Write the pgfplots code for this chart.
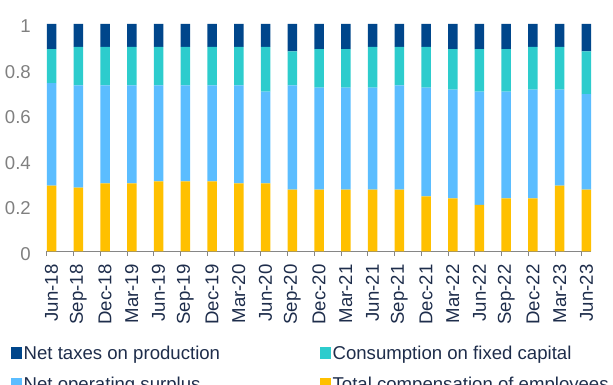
\documentclass[border=0pt]{standalone}
\usepackage{fontspec}
\setmainfont{Liberation Sans}
\usepackage{pgfplots}
\pgfplotsset{compat=1.18}
\usepackage{pgfplotstable}
\definecolor{ctax}{RGB}{0,70,139}
\definecolor{ccfc}{RGB}{45,204,205}
\definecolor{cnos}{RGB}{91,189,255}
\definecolor{ccomp}{RGB}{255,192,0}
\definecolor{ctext}{RGB}{30,45,75}
\definecolor{cgray}{RGB}{128,128,128}
\definecolor{caxis}{RGB}{134,134,134}

\pgfplotstableread{
k comp nos cfc tax
0 0.289 0.451 0.149 0.111
1 0.280 0.450 0.169 0.101
2 0.299 0.431 0.169 0.101
3 0.299 0.431 0.169 0.101
4 0.308 0.422 0.169 0.101
5 0.308 0.422 0.169 0.101
6 0.308 0.422 0.169 0.101
7 0.299 0.431 0.169 0.101
8 0.299 0.403 0.197 0.101
9 0.271 0.459 0.150 0.120
10 0.271 0.449 0.169 0.111
11 0.271 0.449 0.169 0.111
12 0.271 0.449 0.179 0.101
13 0.271 0.459 0.169 0.101
14 0.242 0.478 0.179 0.101
15 0.233 0.478 0.178 0.111
16 0.204 0.498 0.187 0.111
17 0.233 0.469 0.187 0.111
18 0.233 0.478 0.188 0.101
19 0.289 0.422 0.188 0.101
20 0.271 0.421 0.188 0.120
}\data

\newcommand{\chartfont}{\fontsize{18.6}{21}\selectfont}

\begin{document}
\begin{tikzpicture}
\path[use as bounding box] (0,0) rectangle (613pt,385pt);
\begin{axis}[
  at={(46.7pt,133.7pt)}, anchor=south west,
  scale only axis, width=544.6pt, height=227.3pt,
  ybar stacked, bar width=9.5pt,
  xmin=-0.18, xmax=20.18, ymin=0, ymax=1,
  axis x line*=bottom, axis y line*=left,
  y axis line style={draw=none},
  x axis line style={draw=caxis, line width=0.8pt},
  ytick={0,0.2,0.4,0.6,0.8,1},
  ytick style={draw=none},
  xtick={0,1,2,3,4,5,6,7,8,9,10,11,12,13,14,15,16,17,18,19,20},
  xticklabels={Jun-18,Sep-18,Dec-18,Mar-19,Jun-19,Sep-19,Dec-19,Mar-20,Jun-20,Sep-20,Dec-20,Mar-21,Jun-21,Sep-21,Dec-21,Mar-22,Jun-22,Sep-22,Dec-22,Mar-23,Jun-23},
  major tick length=0pt,
  minor xtick={-0.18,0.82,1.82,2.82,3.82,4.82,5.82,6.82,7.82,8.82,9.82,10.82,11.82,12.82,13.82,14.82,15.82,16.82,17.82,18.82,19.82},
  minor tick length=4.5pt,
  minor tick style={draw=caxis, line width=0.8pt},
  tick align=outside,
  xticklabel style={rotate=90, anchor=east, inner sep=0pt, font=\chartfont, text=ctext},
  xticklabel shift=13pt,
  yticklabel style={anchor=east, inner sep=0pt, font=\chartfont, text=cgray, xshift=-15.7pt, yshift=-2.5pt},
  /pgf/number format/assume math mode=true,
  legend columns=2, reverse legend, legend cell align=left,
  legend style={at={(-0.0656,-0.4065)}, anchor=north west, draw=none, fill=none, inner sep=0pt,
    font=\chartfont, text=ctext, nodes={inner sep=2pt}, row sep=12pt,
    /tikz/every even column/.append style={column sep=98pt}},
  legend image code/.code={\fill[#1] (0pt,-6pt) rectangle (10.5pt,6pt);},
]
\addplot[fill=ccomp, draw=none] table[x=k, y=comp] {\data};
\addplot[fill=cnos, draw=none] table[x=k, y=nos] {\data};
\addplot[fill=ccfc, draw=none] table[x=k, y=cfc] {\data};
\addplot[fill=ctax, draw=none] table[x=k, y=tax] {\data};
\legend{Total compensation of employees, Net operating surplus, Consumption on fixed capital, Net taxes on production}
\end{axis}
\end{tikzpicture}
\end{document}
